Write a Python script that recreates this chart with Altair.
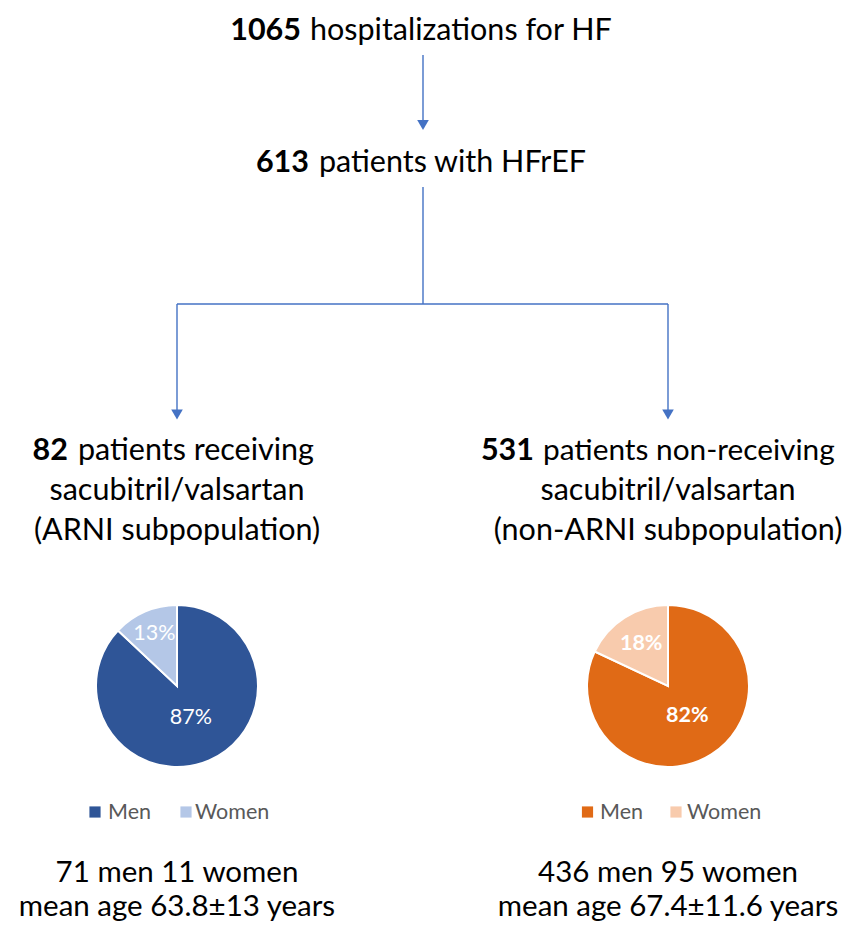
import altair as alt
import pandas as pd

# ---------------- data ----------------
n_hospitalizations = 1065
n_hfref = 613
group_names = ["ARNI", "non-ARNI"]
group_n = [82, 531]
sexes = ["Men", "Women"]
pct_arni = [87, 13]
pct_non_arni = [82, 18]
men_n = [71, 436]
women_n = [11, 95]
mean_age = ["63.8±13", "67.4±11.6"]

# ---------------- layout (page pixels) ----------------
W, H = 835, 915
FONT = "Lato"
FS = 30.5
BLUE = "#4472C4"
xs = alt.Scale(domain=[8, 843], nice=False, zero=False)
ys = alt.Scale(domain=[8, 923], nice=False, zero=False, reverse=True)
col_x = [177, 668]
pie_y = 686
pie_r = 81
label_r = {"ARNI": [35, 57], "non-ARNI": [36, 50]}
pie_colors = {"ARNI": ["#2F5597", "#B4C7E7"], "non-ARNI": ["#E06A16", "#F8CBAD"]}


def X(f="x"):
    return alt.X(f"{f}:Q", scale=xs, axis=None)


def Y(f="y"):
    return alt.Y(f"{f}:Q", scale=ys, axis=None)


# connector lines
lines = pd.DataFrame({
    "x": [423, 423, col_x[0], col_x[0], col_x[1]],
    "y": [55, 187, 304, 304, 304],
    "x2": [423, 423, col_x[1], col_x[0], col_x[1]],
    "y2": [122, 304, 304, 410, 410],
})
rules = alt.Chart(lines).mark_rule(color=BLUE, strokeWidth=1.4).encode(
    x=X(), y=Y(), x2="x2:Q", y2="y2:Q")

heads = pd.DataFrame({"x": [423, col_x[0], col_x[1]], "y": [125, 414.5, 414.5]})
arrows = alt.Chart(heads).mark_point(shape="triangle-down", filled=True, size=135,
                                     color=BLUE, opacity=1).encode(x=X(), y=Y())

# header texts with bold number + regular rest
bold_rows = pd.DataFrame({
    "x": [301, 309, 68, 534],
    "y": [40, 172, 460, 460],
    "t": [str(n_hospitalizations), str(n_hfref), str(group_n[0]), str(group_n[1])],
})
reg_rows = pd.DataFrame({
    "x": [310, 319, 78, 543],
    "y": [40, 172, 460, 460],
    "t": ["hospitalizations for HF", "patients with HFrEF", "patients receiving",
          "patients non-receiving"],
    "fs": [FS, FS, FS, 29.8],
})
center_rows = pd.DataFrame({
    "x": [col_x[0], col_x[0], col_x[1], col_x[1], col_x[0], col_x[0], col_x[1], col_x[1]],
    "y": [500, 540, 500, 540, 882, 916, 882, 916],
    "t": ["sacubitril/valsartan", f"({group_names[0]} subpopulation)",
          "sacubitril/valsartan", f"({group_names[1]} subpopulation)",
          f"{men_n[0]} men {women_n[0]} women", f"mean age {mean_age[0]} years",
          f"{men_n[1]} men {women_n[1]} women", f"mean age {mean_age[1]} years"],
    "fs": [FS, FS, FS, FS, 29.5, 29.5, 29.5, 29.5],
})
tb = alt.Chart(bold_rows).mark_text(font=FONT, fontSize=FS, fontWeight="bold", align="right",
                                    baseline="alphabetic", color="#000000").encode(
    x=X(), y=Y(), text="t:N")
tr = alt.Chart(reg_rows).mark_text(font=FONT, align="left",
                                   baseline="alphabetic", color="#000000").encode(
    x=X(), y=Y(), text="t:N", size=alt.Size("fs:Q", scale=None, legend=None))
tc = alt.Chart(center_rows).mark_text(font=FONT, align="center",
                                      baseline="alphabetic", color="#000000").encode(
    x=X(), y=Y(), text="t:N", size=alt.Size("fs:Q", scale=None, legend=None))

# pies
layers = []
for gi, (g, pcts) in enumerate(zip(group_names, [pct_arni, pct_non_arni])):
    cum = pd.Series(pcts).cumsum()
    df = pd.DataFrame({
        "x": [col_x[gi]] * 2,
        "y": [pie_y] * 2,
        "sex": sexes,
        "key": [f"{g}-{s}" for s in sexes],
        "pct": pcts,
        "mid": list(cum - pd.Series(pcts) / 2),
        "ord": [0, 1],
        "lab": [f"{p}%" for p in pcts],
        "lr": label_r[g],
    })
    arc = alt.Chart(df).mark_arc(radius=pie_r, stroke="white", strokeWidth=2).encode(
        x=X(), y=Y(),
        theta=alt.Theta("pct:Q", stack=True),
        order=alt.Order("ord:Q"),
        color=alt.Color("key:N", scale=alt.Scale(domain=[f"{g}-{s}" for s in sexes],
                                                  range=pie_colors[g]), legend=None),
    )
    lab = alt.Chart(df).mark_text(font=FONT, fontSize=21.5, color="white",
                                  fontWeight="bold" if gi == 1 else "normal").encode(
        x=X(), y=Y(),
        theta=alt.Theta("mid:Q", stack=None,
                        scale=alt.Scale(domain=[0, 100], range=[0, 6.283185])),
        radius=alt.Radius("lr:Q", scale=None),
        text="lab:N",
    )
    layers += [arc, lab]

# legends
leg_sq = pd.DataFrame({
    "x": [95, 186, 587.5, 676],
    "y": [812] * 4,
    "key": ["ARNI-Men", "ARNI-Women", "non-ARNI-Men", "non-ARNI-Women"],
})
leg_tx = pd.DataFrame({
    "x": [108, 195, 600, 687],
    "y": [813] * 4,
    "t": sexes * 2,
})
sq = alt.Chart(leg_sq).mark_square(size=125, opacity=1).encode(
    x=X(), y=Y(),
    color=alt.Color("key:N", scale=alt.Scale(
        domain=list(leg_sq["key"]),
        range=pie_colors["ARNI"] + pie_colors["non-ARNI"]), legend=None))
lt = alt.Chart(leg_tx).mark_text(font=FONT, fontSize=21.5, align="left", baseline="middle",
                                 color="#595959").encode(x=X(), y=Y(), text="t:N")

chart = alt.layer(rules, arrows, tb, tr, tc, *layers, sq, lt).resolve_scale(
    color="independent", theta="independent"
).properties(
    width=W, height=H, padding=0, autosize=alt.AutoSizeParams(type="none")
).configure_view(stroke=None)

chart.save("out.html", embed_options={"renderer": "svg", "actions": False})
